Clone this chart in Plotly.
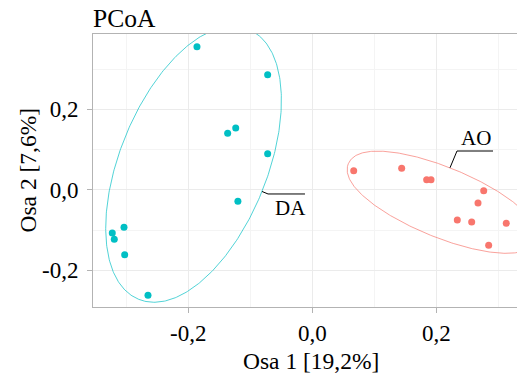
import numpy as np
import plotly.graph_objects as go

# PCoA site scores (axis 1, axis 2) for the two groups
da_x = [-0.186, -0.072, -0.1235, -0.1365, -0.072, -0.120, -0.3037, -0.3226, -0.3194, -0.3026, -0.265]
da_y = [0.3555, 0.286, 0.1535, 0.1404, 0.0897, -0.0286, -0.0932, -0.1073, -0.123, -0.1612, -0.262]
ao_x = [0.0668, 0.1442, 0.1845, 0.1915, 0.2765, 0.2673, 0.2339, 0.2571, 0.3129, 0.2845]
ao_y = [0.0475, 0.0534, 0.0251, 0.0251, -0.0022, -0.0328, -0.075, -0.080, -0.0832, -0.1379]

group_names = ["DA", "AO"]
group_colors = ["#00BFC4", "#F8766D"]

x_tickvals = [-0.2, 0.0, 0.2]
x_ticktext = ["-0,2", "0,0", "0,2"]
y_tickvals = [-0.2, 0.0, 0.2]
y_ticktext = ["-0,2", "0,0", "0,2"]
x_minor = [-0.3, -0.1, 0.1, 0.3]
y_minor = [-0.3, -0.1, 0.1, 0.3]

title_text = "PCoA"
x_title = "Osa 1 [19,2%]"
y_title = "Osa 2 [7,6%]"

# ---- layout geometry ----
W, H = 517, 381
ML, MR, MT, MB = 93, 0, 34, 74
x_range = [-0.3537, 0.3302]
y_range = [-0.2912, 0.3871]
plot_w = W - ML - MR
plot_h = H - MT - MB
sx = plot_w / (x_range[1] - x_range[0])   # px per data unit
sy = plot_h / (y_range[1] - y_range[0])

FONT = "Liberation Serif"
ELLIPSE_EXPAND_PX = 6.5


def min_enclosing_ellipse(P, tol=1e-6):
    """Khachiyan minimum-volume enclosing ellipse."""
    N, d = P.shape
    Q = np.vstack([P.T, np.ones(N)])
    u = np.ones(N) / N
    err = 1.0
    while err > tol:
        X = Q @ np.diag(u) @ Q.T
        M = np.einsum("ij,ji->i", Q.T @ np.linalg.inv(X), Q)
        j = np.argmax(M)
        step = (M[j] - d - 1.0) / ((d + 1.0) * (M[j] - 1.0))
        new_u = (1 - step) * u
        new_u[j] += step
        err = np.linalg.norm(new_u - u)
        u = new_u
    c = P.T @ u
    A = np.linalg.inv(P.T @ np.diag(u) @ P - np.outer(c, c)) / d
    return A, c


def mark_ellipse(xs, ys, expand_px, n=400):
    # work in pixel space so the outward offset is isotropic on screen
    P = np.column_stack([np.asarray(xs) * sx, np.asarray(ys) * sy])
    A, c = min_enclosing_ellipse(P)
    vals, vecs = np.linalg.eigh(A)
    a, b = 1 / np.sqrt(vals)
    u1, u2 = vecs[:, 0], vecs[:, 1]
    t = np.linspace(0, 2 * np.pi, n)
    pts = c[None, :] + np.outer(a * np.cos(t), u1) + np.outer(b * np.sin(t), u2)
    nrm = np.outer(b * np.cos(t), u1) + np.outer(a * np.sin(t), u2)
    nrm /= np.linalg.norm(nrm, axis=1)[:, None]
    pts = pts + expand_px * nrm
    return pts[:, 0] / sx, pts[:, 1] / sy


# label elbow (where the underline meets the connector), underline end, text position
labels = {
    "DA": dict(elbow=(-0.0714, -0.0104), end=(-0.0118, -0.0104), text=(-0.0634, -0.0452), anchor="left"),
    "AO": dict(elbow=(0.2334, 0.0964), end=(0.2915, 0.0964), text=(0.2640, 0.1287), anchor="center"),
}

fig = go.Figure()

groups = [(da_x, da_y), (ao_x, ao_y)]
for name, color, (gx, gy) in zip(group_names, group_colors, groups):
    ex, ey = mark_ellipse(gx, gy, ELLIPSE_EXPAND_PX)
    fig.add_trace(go.Scatter(x=ex, y=ey, mode="lines", line=dict(color=color, width=0.8),
                             opacity=0.85, hoverinfo="skip", showlegend=False))
    fig.add_trace(go.Scatter(x=gx, y=gy, mode="markers", name=name,
                             marker=dict(color=color, size=7, line=dict(width=0)),
                             showlegend=False))
    # connector from the closest outline point to the label
    lab = labels[name]
    exy_px = np.column_stack([ex * sx, ey * sy])
    elbow_px = np.array([lab["elbow"][0] * sx, lab["elbow"][1] * sy])
    k = np.argmin(np.linalg.norm(exy_px - elbow_px, axis=1))
    fig.add_trace(go.Scatter(
        x=[ex[k], lab["elbow"][0], lab["end"][0]],
        y=[ey[k], lab["elbow"][1], lab["end"][1]],
        mode="lines", line=dict(color="black", width=1),
        hoverinfo="skip", showlegend=False))
    fig.add_annotation(x=lab["text"][0], y=lab["text"][1], xref="x", yref="y",
                       text=name, showarrow=False, xanchor=lab["anchor"], yanchor="middle",
                       font=dict(family=FONT, size=21, color="black"))

axis_common = dict(
    showgrid=True, gridcolor="#ebebeb", gridwidth=1,
    zeroline=False,
    showline=True, linecolor="#b3b3b3", linewidth=1,
    ticks="outside", ticklen=5, tickcolor="#b3b3b3", tickwidth=1,
    tickfont=dict(family=FONT, size=23, color="black"),
)

fig.update_xaxes(range=x_range, tickmode="array", tickvals=x_tickvals, ticktext=x_ticktext,
                 mirror=True,
                 minor=dict(tickmode="array", tickvals=x_minor, showgrid=True,
                            gridcolor="#f4f4f4", gridwidth=1, ticks=""),
                 **axis_common)
fig.update_yaxes(range=y_range, tickmode="array", tickvals=y_tickvals, ticktext=y_ticktext,
                 mirror=False, ticklabelstandoff=4,
                 minor=dict(tickmode="array", tickvals=y_minor, showgrid=True,
                            gridcolor="#f4f4f4", gridwidth=1, ticks=""),
                 **axis_common)

fig.add_annotation(text=x_title, xref="paper", yref="paper",
                   x=(311.3 - ML) / plot_w, y=-(361 - (H - MB)) / plot_h,
                   xanchor="center", yanchor="middle", showarrow=False,
                   font=dict(family=FONT, size=23.5, color="black"))
fig.add_annotation(text=y_title, xref="paper", yref="paper",
                   x=(27 - ML) / plot_w, y=0.5, textangle=-90,
                   xanchor="center", yanchor="middle", showarrow=False,
                   font=dict(family=FONT, size=23.5, color="black"))

fig.update_layout(
    width=W, height=H,
    margin=dict(l=ML, r=MR, t=MT, b=MB, pad=0),
    paper_bgcolor="white", plot_bgcolor="white",
    title=dict(text=title_text, x=ML / W, xanchor="left", xref="container",
               y=1 - 18 / H, yanchor="middle", yref="container",
               font=dict(family=FONT, size=25.5, color="black")),
    showlegend=False,
)

fig.write_html("out.html")
